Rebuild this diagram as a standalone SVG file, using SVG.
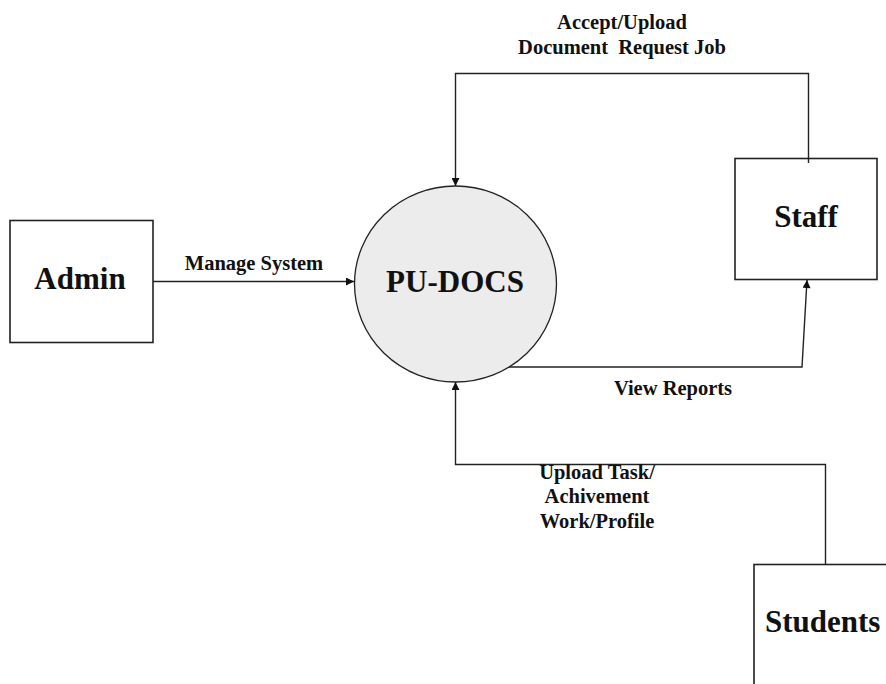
<svg xmlns="http://www.w3.org/2000/svg" width="886" height="684" viewBox="0 0 886 684">
<defs>
<marker id="arr" viewBox="0 0 10 10" refX="10" refY="5" markerWidth="9" markerHeight="8" markerUnits="userSpaceOnUse" orient="auto">
<path d="M0,0 L10,5 L0,10 z" fill="#111"/>
</marker>
</defs>
<style>
.box{fill:#fff;stroke:#222;stroke-width:1.6}
.proc{fill:#ececec;stroke:#222;stroke-width:1.3}
.node{font-family:'Liberation Serif','Tinos','Times New Roman','DejaVu Serif',serif;font-weight:bold;font-size:31px;fill:#111}
.lbl{font-family:'Liberation Serif','Tinos','Times New Roman','DejaVu Serif',serif;font-weight:bold;font-size:20.5px;fill:#111}
.ln{fill:none;stroke:#222;stroke-width:1.4}
</style>
<rect width="886" height="684" fill="#fff"/>
<g id="admin">
<rect class="box" x="10" y="220.5" width="143" height="122"/>
<text class="node" x="80" y="289" text-anchor="middle">Admin</text>
</g>
<g id="pudocs">
<ellipse class="proc" cx="455.5" cy="284" rx="101" ry="98"/>
<text class="node" x="455" y="292" text-anchor="middle">PU-DOCS</text>
</g>
<g id="staff">
<rect class="box" x="735" y="158.5" width="142" height="121"/>
<text class="node" x="806" y="227" text-anchor="middle">Staff</text>
</g>
<g id="students">
<rect class="box" x="754" y="564.5" width="150" height="140"/>
<text class="node" x="765" y="632">Students</text>
</g>
<g id="connectors">
<path class="ln" d="M153,281.5 L354,281.5" marker-end="url(#arr)"/>
<path class="ln" d="M808.5,163 L808.5,73.5 L455.5,73.5 L455.5,186" marker-end="url(#arr)"/>
<path class="ln" d="M509,367 L802,367 L807,280" marker-end="url(#arr)"/>
<path class="ln" d="M825.5,564 L825.5,464.5 L455.5,464.5 L455.5,382" marker-end="url(#arr)"/>
<text class="lbl" x="254" y="270" text-anchor="middle">Manage System</text>
<text class="lbl" x="622" y="29" text-anchor="middle">Accept/Upload</text>
<text class="lbl" x="622" y="54" text-anchor="middle" xml:space="preserve">Document  Request Job</text>
<text class="lbl" x="673" y="395" text-anchor="middle">View Reports</text>
<text class="lbl" x="597" y="479" text-anchor="middle">Upload Task/</text>
<text class="lbl" x="597" y="503" text-anchor="middle">Achivement</text>
<text class="lbl" x="597" y="528" text-anchor="middle">Work/Profile</text>
</g>
</svg>
